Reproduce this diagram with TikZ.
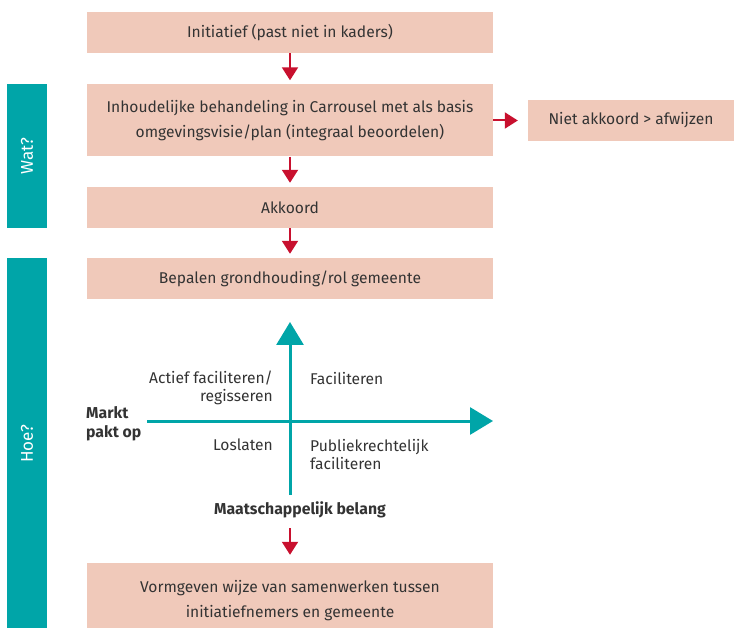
\documentclass[tikz,border=0pt]{standalone}
\usepackage{fontspec}
\setmainfont{Fira Sans}
\usetikzlibrary{arrows.meta}
\definecolor{boxpink}{HTML}{F0C9BA}
\definecolor{tealc}{HTML}{00A5A8}
\definecolor{redc}{HTML}{C8102E}
\definecolor{txt}{HTML}{333333}
\tikzset{
  pinkbox/.style={fill=boxpink, draw=none, minimum width=406pt, text=txt, align=center, inner sep=0pt, font=\fontsize{15.6}{25}\selectfont},
  sidebar/.style={fill=tealc, draw=none, minimum width=40pt, text=white, inner sep=0pt, font=\fontsize{17}{20}\selectfont},
  redarrow/.style={draw=redc, line width=2pt, -{Triangle[width=16pt,length=13pt]}},
  axis/.style={draw=tealc, line width=3pt, -{Triangle[width=27pt,length=23pt]}},
  quad/.style={text=txt, inner sep=0pt, font=\fontsize{15.6}{18.5}\selectfont},
  boldlbl/.style={text=txt, inner sep=0pt, font=\fontsize{15.8}{18.5}\selectfont\bfseries}
}
\begin{document}
\begin{tikzpicture}[x=1pt,y=-1pt]
\useasboundingbox (0,0) rectangle (734,628);
\clip (0,0) rectangle (734,628);
\node[pinkbox, minimum height=41pt] (b1) at (290,32.5) {Initiatief (past niet in kaders)};
\node[pinkbox, minimum height=72pt] (b2) at (290,120.5) {Inhoudelijke behandeling in Carrousel met als basis\\omgevingsvisie/plan (integraal beoordelen)};
\node[pinkbox, minimum width=206pt, minimum height=41pt] (b3) at (631,120.5) {Niet akkoord > afwijzen};
\node[pinkbox, minimum height=41pt] (b4) at (290,207.5) {Akkoord};
\node[pinkbox, minimum height=41pt] (b5) at (290,278.5) {Bepalen grondhouding/rol gemeente};
\node[pinkbox, minimum height=75pt] (b6) at (290,600.5) {Vormgeven wijze van samenwerken tussen\\initiatiefnemers en gemeente};
\node[sidebar, minimum height=144pt] (wat) at (27,156) {\rotatebox{90}{Wat?}};
\node[sidebar, minimum height=372pt] (hoe) at (27,444) {\rotatebox{90}{Hoe?}};
\draw[redarrow, shorten >=4pt] (b1.south) -- (b2.north);
\draw[redarrow, shorten >=10pt] (b2.east) -- (b3.west);
\draw[redarrow, shorten >=4pt] (b2.south) -- (b4.north);
\draw[redarrow, shorten >=4pt] (b4.south) -- (b5.north);
\coordinate (vbot) at (290,495);
\coordinate (vtop) at (290,322);
\coordinate (hleft) at (147,421);
\coordinate (hright) at (493,421);
\draw[axis] (vbot) -- (vtop);
\draw[axis] (hleft) -- (hright);
\node[quad, anchor=east, align=right] (q1) at (273,388) {Actief faciliteren/\\regisseren};
\node[quad, anchor=west, align=left] (q2) at (310,379) {Faciliteren};
\node[quad, anchor=east, align=right] (q3) at (273,445) {Loslaten};
\node[quad, anchor=west, align=left] (q4) at (310,454.5) {Publiekrechtelijk\\faciliteren};
\node[boldlbl, anchor=west, align=left] (markt) at (86,424) {Markt\\pakt op};
\node[boldlbl] (maat) at (300,510) {Maatschappelijk belang};
\coordinate (mstart) at (290,528);
\draw[redarrow, shorten >=8pt] (mstart) -- (b6.north);
\end{tikzpicture}
\end{document}
